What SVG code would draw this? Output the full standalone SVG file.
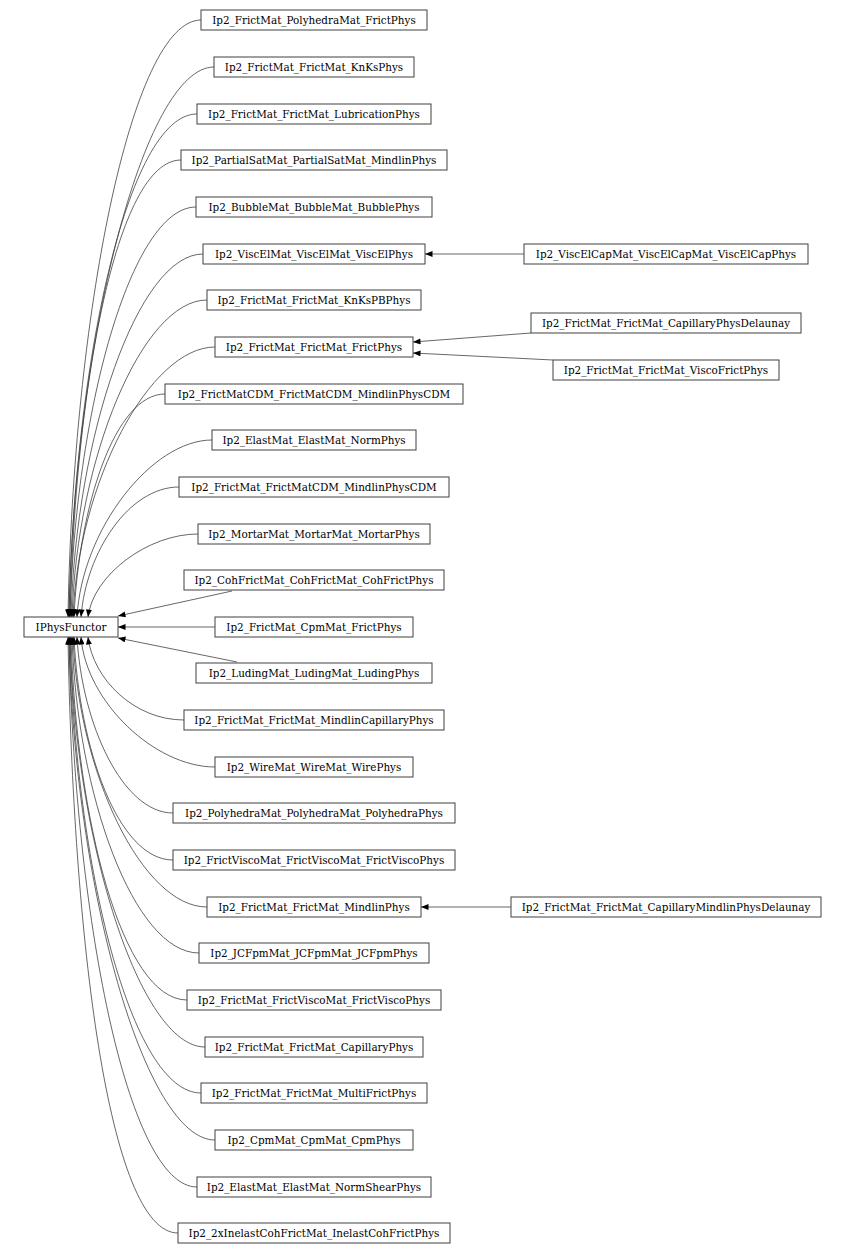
<svg xmlns="http://www.w3.org/2000/svg" width="846" height="1256" viewBox="0 0 846 1256">
<style>
rect{fill:#fff;stroke:#404040;stroke-width:1}
text{font-family:"DejaVu Serif",serif;font-size:10.4px;text-anchor:middle;fill:#000}
.e path{fill:none;stroke:#404040;stroke-width:0.8}
</style>
<defs><marker id="a" viewBox="0 0 10 8" refX="10" refY="4" markerWidth="8" markerHeight="6" orient="auto" markerUnits="userSpaceOnUse"><path d="M0,0L10,4L0,8z" fill="#000"/></marker></defs>
<rect x="0" y="0" width="846" height="1256" style="stroke:none"/>
<g class="e">
<path d="M201,20C131,20 73,318 68,617" marker-end="url(#a)"/>
<path d="M214,67C144,67 74,342 69,617" marker-end="url(#a)"/>
<path d="M197,114C127,114 74,366 69,617" marker-end="url(#a)"/>
<path d="M181,160C116,160 75,389 70,617" marker-end="url(#a)"/>
<path d="M196,207C131,207 75,412 70,617" marker-end="url(#a)"/>
<path d="M203,254C138,254 76,436 71,617" marker-end="url(#a)"/>
<path d="M207,300C142,300 77,459 72,617" marker-end="url(#a)"/>
<path d="M215,347C150,347 78,482 73,617" marker-end="url(#a)"/>
<path d="M165,394C115,394 79,506 74,617" marker-end="url(#a)"/>
<path d="M212,440C152,440 82,529 77,617" marker-end="url(#a)"/>
<path d="M179,487C129,487 86,552 81,617" marker-end="url(#a)"/>
<path d="M198,534C148,534 93,575 88,617" marker-end="url(#a)"/>
<path d="M232,591L118,616" marker-end="url(#a)"/>
<path d="M215,627L118,627" marker-end="url(#a)"/>
<path d="M237,662L118,638" marker-end="url(#a)"/>
<path d="M184,720C134,720 93,679 88,637" marker-end="url(#a)"/>
<path d="M215,767C155,767 86,702 81,637" marker-end="url(#a)"/>
<path d="M173,813C123,813 82,725 77,637" marker-end="url(#a)"/>
<path d="M173,860C118,860 79,748 74,637" marker-end="url(#a)"/>
<path d="M207,907C142,907 78,772 73,637" marker-end="url(#a)"/>
<path d="M199,953C134,953 77,795 72,637" marker-end="url(#a)"/>
<path d="M187,1000C122,1000 76,818 71,637" marker-end="url(#a)"/>
<path d="M205,1047C140,1047 75,842 70,637" marker-end="url(#a)"/>
<path d="M201,1093C131,1093 75,865 70,637" marker-end="url(#a)"/>
<path d="M215,1140C145,1140 74,888 69,637" marker-end="url(#a)"/>
<path d="M197,1187C127,1187 74,912 69,637" marker-end="url(#a)"/>
<path d="M178,1233C108,1233 73,935 68,637" marker-end="url(#a)"/>
<path d="M524,254L425,254" marker-end="url(#a)"/>
<path d="M531,333L413,342" marker-end="url(#a)"/>
<path d="M553,360L413,353" marker-end="url(#a)"/>
<path d="M511,907L421,907" marker-end="url(#a)"/>
</g>
<g id="n0"><rect x="24" y="617" width="94" height="20"/><text x="71" y="631">IPhysFunctor</text></g>
<g id="n1"><rect x="201" y="10" width="226" height="20"/><text x="314" y="24">Ip2_FrictMat_PolyhedraMat_FrictPhys</text></g>
<g id="n2"><rect x="214" y="57" width="200" height="20"/><text x="314" y="71">Ip2_FrictMat_FrictMat_KnKsPhys</text></g>
<g id="n3"><rect x="197" y="104" width="234" height="20"/><text x="314" y="118">Ip2_FrictMat_FrictMat_LubricationPhys</text></g>
<g id="n4"><rect x="181" y="150" width="266" height="20"/><text x="314" y="164">Ip2_PartialSatMat_PartialSatMat_MindlinPhys</text></g>
<g id="n5"><rect x="196" y="197" width="236" height="20"/><text x="314" y="211">Ip2_BubbleMat_BubbleMat_BubblePhys</text></g>
<g id="n6"><rect x="203" y="244" width="222" height="20"/><text x="314" y="258">Ip2_ViscElMat_ViscElMat_ViscElPhys</text></g>
<g id="n7"><rect x="207" y="290" width="214" height="20"/><text x="314" y="304">Ip2_FrictMat_FrictMat_KnKsPBPhys</text></g>
<g id="n8"><rect x="215" y="337" width="198" height="20"/><text x="314" y="351">Ip2_FrictMat_FrictMat_FrictPhys</text></g>
<g id="n9"><rect x="165" y="384" width="298" height="20"/><text x="314" y="398">Ip2_FrictMatCDM_FrictMatCDM_MindlinPhysCDM</text></g>
<g id="n10"><rect x="212" y="430" width="204" height="20"/><text x="314" y="444">Ip2_ElastMat_ElastMat_NormPhys</text></g>
<g id="n11"><rect x="179" y="477" width="270" height="20"/><text x="314" y="491">Ip2_FrictMat_FrictMatCDM_MindlinPhysCDM</text></g>
<g id="n12"><rect x="198" y="524" width="232" height="20"/><text x="314" y="538">Ip2_MortarMat_MortarMat_MortarPhys</text></g>
<g id="n13"><rect x="184" y="570" width="260" height="20"/><text x="314" y="584">Ip2_CohFrictMat_CohFrictMat_CohFrictPhys</text></g>
<g id="n14"><rect x="215" y="617" width="198" height="20"/><text x="314" y="631">Ip2_FrictMat_CpmMat_FrictPhys</text></g>
<g id="n15"><rect x="196" y="663" width="236" height="20"/><text x="314" y="677">Ip2_LudingMat_LudingMat_LudingPhys</text></g>
<g id="n16"><rect x="184" y="710" width="260" height="20"/><text x="314" y="724">Ip2_FrictMat_FrictMat_MindlinCapillaryPhys</text></g>
<g id="n17"><rect x="215" y="757" width="198" height="20"/><text x="314" y="771">Ip2_WireMat_WireMat_WirePhys</text></g>
<g id="n18"><rect x="173" y="803" width="282" height="20"/><text x="314" y="817">Ip2_PolyhedraMat_PolyhedraMat_PolyhedraPhys</text></g>
<g id="n19"><rect x="173" y="850" width="282" height="20"/><text x="314" y="864">Ip2_FrictViscoMat_FrictViscoMat_FrictViscoPhys</text></g>
<g id="n20"><rect x="207" y="897" width="214" height="20"/><text x="314" y="911">Ip2_FrictMat_FrictMat_MindlinPhys</text></g>
<g id="n21"><rect x="199" y="943" width="230" height="20"/><text x="314" y="957">Ip2_JCFpmMat_JCFpmMat_JCFpmPhys</text></g>
<g id="n22"><rect x="187" y="990" width="254" height="20"/><text x="314" y="1004">Ip2_FrictMat_FrictViscoMat_FrictViscoPhys</text></g>
<g id="n23"><rect x="205" y="1037" width="218" height="20"/><text x="314" y="1051">Ip2_FrictMat_FrictMat_CapillaryPhys</text></g>
<g id="n24"><rect x="201" y="1083" width="226" height="20"/><text x="314" y="1097">Ip2_FrictMat_FrictMat_MultiFrictPhys</text></g>
<g id="n25"><rect x="215" y="1130" width="198" height="20"/><text x="314" y="1144">Ip2_CpmMat_CpmMat_CpmPhys</text></g>
<g id="n26"><rect x="197" y="1177" width="234" height="20"/><text x="314" y="1191">Ip2_ElastMat_ElastMat_NormShearPhys</text></g>
<g id="n27"><rect x="178" y="1223" width="272" height="20"/><text x="314" y="1237">Ip2_2xInelastCohFrictMat_InelastCohFrictPhys</text></g>
<g id="n28"><rect x="524" y="244" width="284" height="20"/><text x="666" y="258">Ip2_ViscElCapMat_ViscElCapMat_ViscElCapPhys</text></g>
<g id="n29"><rect x="531" y="313" width="270" height="20"/><text x="666" y="327">Ip2_FrictMat_FrictMat_CapillaryPhysDelaunay</text></g>
<g id="n30"><rect x="553" y="360" width="226" height="20"/><text x="666" y="374">Ip2_FrictMat_FrictMat_ViscoFrictPhys</text></g>
<g id="n31"><rect x="511" y="897" width="310" height="20"/><text x="666" y="911">Ip2_FrictMat_FrictMat_CapillaryMindlinPhysDelaunay</text></g>
</svg>
